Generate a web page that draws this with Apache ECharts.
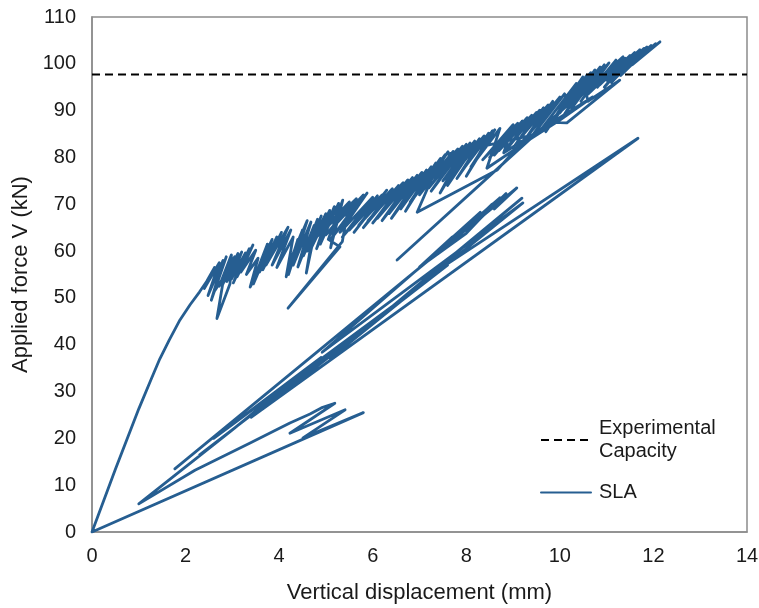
<!DOCTYPE html>
<html><head><meta charset="utf-8">
<script src="https://cdn.jsdelivr.net/npm/echarts@6/dist/echarts.min.js"></script>
<style>html,body{margin:0;padding:0;background:#fff}#c{width:759px;height:608px}</style>
</head><body><div id="c"></div>
<script>
// Experimental capacity (kN)
const capacity = 97.7;
const xRange = [0, 14];
// SLA curve, lower (post-peak) branch, in drawing order: [displacement mm, force kN]
const slaLower = [
[1.77,13.5],[9.08,73.5],[8.6,69.0],[8.85,72.3],[8.2,66.0],[8.55,70.0],[7.87,63.5],[8.3,68.3],[7.29,59.2],[7.7,63.0],[7.0,56.6],[8.0,63.8],[8.72,71.4],[4.92,38.4],[9.21,70.3],[5.09,37.1],[9.19,71.3],[7.07,53.8],[11.67,84.1],[3.4,24.5],[7.6,57.0],[2.3,16.5],[6.8,51.0],[2.6,20.0],[4.9,37.3],[3.0,21.8],[1.0,6.0],
[2.2,13.2],[3.38,19.0],[3.9,21.6],[4.23,23.3],[4.66,25.2],[4.9,26.5],[5.19,27.5],[4.23,21.1],[5.41,26.1],[4.51,20.1],[5.8,25.5],[0,0]
];
// SLA curve, loading branch up to peak
const slaUpper = [
[0.5,13.4],[1.0,26.3],[1.28,33.0],[1.45,37.0],[1.65,41.0],[1.88,45.3],[2.1,48.6],[2.3,51.3],[2.45,53.5],
[2.62,56.5],[2.4,52.0],[2.72,57.5],[2.48,50.5],[2.8,58.0],[2.55,49.5],[2.87,58.8],[2.62,51.5],[2.82,54.5],[2.67,45.6],[2.95,53.0],[2.98,59.2],[2.72,52.5],[3.05,58.8],[2.8,53.0],[3.12,59.5],[2.88,53.5],[3.2,59.8],[2.98,54.0],[3.28,59.6],[3.02,53.2],[3.36,60.5],[3.1,54.5],[3.44,61.3],[3.18,55.5],[3.5,60.2],[3.3,55.0],[3.55,58.5],[3.38,52.3],[3.62,57.0],[3.45,53.0],
[3.75,61.5],[3.5,55.0],[3.85,62.5],[3.58,55.5],[3.95,63.0],[3.65,56.0],[4.05,64.0],[3.72,57.0],[4.19,65.1],[3.85,57.0],[4.25,64.5],[3.95,56.5],[4.3,63.0],[4.15,54.5],[4.4,62.5],[4.2,55.0],[4.5,64.5],[4.22,57.5],[4.6,66.5],[4.3,57.0],[4.68,66.2],[4.4,56.6],[4.75,65.5],[4.58,55.3],[4.82,66.8],[4.52,59.0],[4.9,67.5],[4.6,60.0],[5.0,68.0],[4.68,60.5],[5.08,68.7],[4.8,60.5],[5.18,69.5],[4.88,61.5],[5.27,70.2],[5.1,60.7],[5.36,70.9],[5.05,62.5],[5.3,60.9],[4.19,47.8],[5.35,62.0],
[5.5,70.5],[4.8,63.0],[5.65,71.2],[5.0,63.5],[5.8,72.0],[5.1,62.5],[5.88,72.4],[5.3,64.0],[6.0,71.5],[5.35,63.0],[6.1,71.8],[5.5,64.5],[6.2,72.0],[5.6,64.0],[6.3,73.0],[5.7,65.5],[6.42,73.3],[5.8,65.0],[6.55,74.0],[5.9,66.5],[6.65,74.6],[6.0,66.0],[6.75,75.2],[6.1,67.0],[6.85,75.7],[6.2,66.5],[6.95,76.2],[6.35,68.0],[7.05,76.8],[6.4,67.0],[7.15,77.3],[6.6,69.0],[7.25,78.0],[6.7,68.5],[7.35,78.8],[6.8,70.5],[7.45,79.8],[6.95,68.3],[8.66,77.3],[9.3,84.5],
[7.55,80.6],[6.85,71.0],[7.61,81.2],[7.0,72.0],[7.72,81.3],[7.05,73.0],[7.82,81.8],[7.2,73.5],[7.92,82.4],[7.25,72.8],[8.0,82.8],[7.44,72.4],[8.08,83.1],[7.5,75.0],[8.18,83.5],[7.6,74.0],[8.28,84.0],[7.7,76.0],[8.38,84.6],[7.8,75.5],[8.48,85.2],[7.9,77.0],[8.56,85.7],[8.0,76.0],[8.61,85.9],[8.1,78.0],[8.72,86.2],[8.44,77.7],[9.3,83.5],[10.0,88.0],[10.7,92.9],[8.8,81.0],
[9.0,87.0],[8.35,79.5],[9.1,87.3],[8.5,80.0],[9.2,87.8],[8.6,80.5],[9.3,88.5],[8.7,81.5],[9.4,89.0],[8.8,81.0],[9.5,89.6],[8.9,82.5],[9.57,90.1],[9.0,82.0],[9.65,90.6],[9.1,83.5],[9.75,91.2],[9.2,83.0],[9.85,92.0],[9.3,84.5],[10.0,92.9],[9.4,84.5],[10.1,93.6],[10.2,91.5],[6.52,58.1],[10.3,92.5],[9.6,86.0],[10.35,95.8],[9.7,85.5],[10.45,96.5],[9.85,87.5],[10.15,87.4],[11.28,96.5],[10.6,92.0],[10.49,97.2],[9.9,88.5],[10.58,97.6],[10.0,89.5],[10.66,98.1],[10.05,88.5],[10.75,98.7],[10.2,91.0],[10.86,99.3],[10.25,90.5],[10.95,99.8],[10.4,92.5],[11.05,100.2],[10.45,92.0],[10.7,95.5],[11.35,101.5],[10.8,95.0],[11.2,100.8],[10.6,93.5],[11.4,101.2],[10.85,95.5],[11.5,101.8],[10.95,95.0],[11.6,102.4],[11.0,96.5],[11.71,103.0],[11.1,96.0],[11.8,103.3],[11.25,98.0],[11.86,103.6],[11.3,97.5],[11.95,103.9],[11.45,99.5],[12.05,104.3],[11.55,99.8],[12.14,104.7]
];
const slaData = slaLower.concat(slaUpper);
const capData = [[xRange[0], capacity], [xRange[1], capacity]];

const font = 'Liberation Sans, Arial, sans-serif';
const chart = echarts.init(document.getElementById('c'), null, {renderer: 'canvas'});
chart.setOption({
  animation: false,
  backgroundColor: '#fff',
  grid: {left: 92, right: 12, top: 17, bottom: 76, show: true, borderColor: '#8c8c8c', borderWidth: 1.5,
         outerBoundsMode: 'none', containLabel: false},
  xAxis: {
    type: 'value', min: 0, max: 14, interval: 2,
    name: 'Vertical displacement (mm)', nameLocation: 'middle', nameGap: 50,
    nameTextStyle: {fontFamily: font, fontSize: 22, color: '#1a1a1a'},
    axisLine: {show: true, lineStyle: {color: '#8c8c8c', width: 1.5}},
    axisTick: {show: false}, splitLine: {show: false},
    axisLabel: {fontFamily: font, fontSize: 20, color: '#1a1a1a', margin: 14}
  },
  yAxis: {
    type: 'value', min: 0, max: 110, interval: 10,
    name: 'Applied force V (kN)', nameLocation: 'middle', nameGap: 60,
    nameTextStyle: {fontFamily: font, fontSize: 22, color: '#1a1a1a'},
    axisLine: {show: true, lineStyle: {color: '#8c8c8c', width: 1.5}},
    axisTick: {show: false}, splitLine: {show: false},
    axisLabel: {fontFamily: font, fontSize: 20, color: '#1a1a1a', margin: 16}
  },
  legend: {
    orient: 'vertical', left: 535, top: 412, itemWidth: 50, itemHeight: 10, itemGap: 18,
    itemStyle: {opacity: 0},
    textStyle: {fontFamily: font, fontSize: 20, color: '#1a1a1a', lineHeight: 23, padding: [0, 0, 0, 3]},
    data: ['Experimental\nCapacity', 'SLA']
  },
  series: [
    {name: 'Experimental\nCapacity', type: 'line', data: capData, showSymbol: false, symbol: 'none',
     lineStyle: {color: '#000', width: 2, type: [8, 5]}, itemStyle: {color: '#000'}, z: 3},
    {name: 'SLA', type: 'line', data: slaData, showSymbol: false, symbol: 'none',
     lineStyle: {color: '#265E91', width: 2.8, join: 'round', cap: 'round'}, itemStyle: {color: '#265E91'}, z: 2}
  ]
});
</script></body></html>
